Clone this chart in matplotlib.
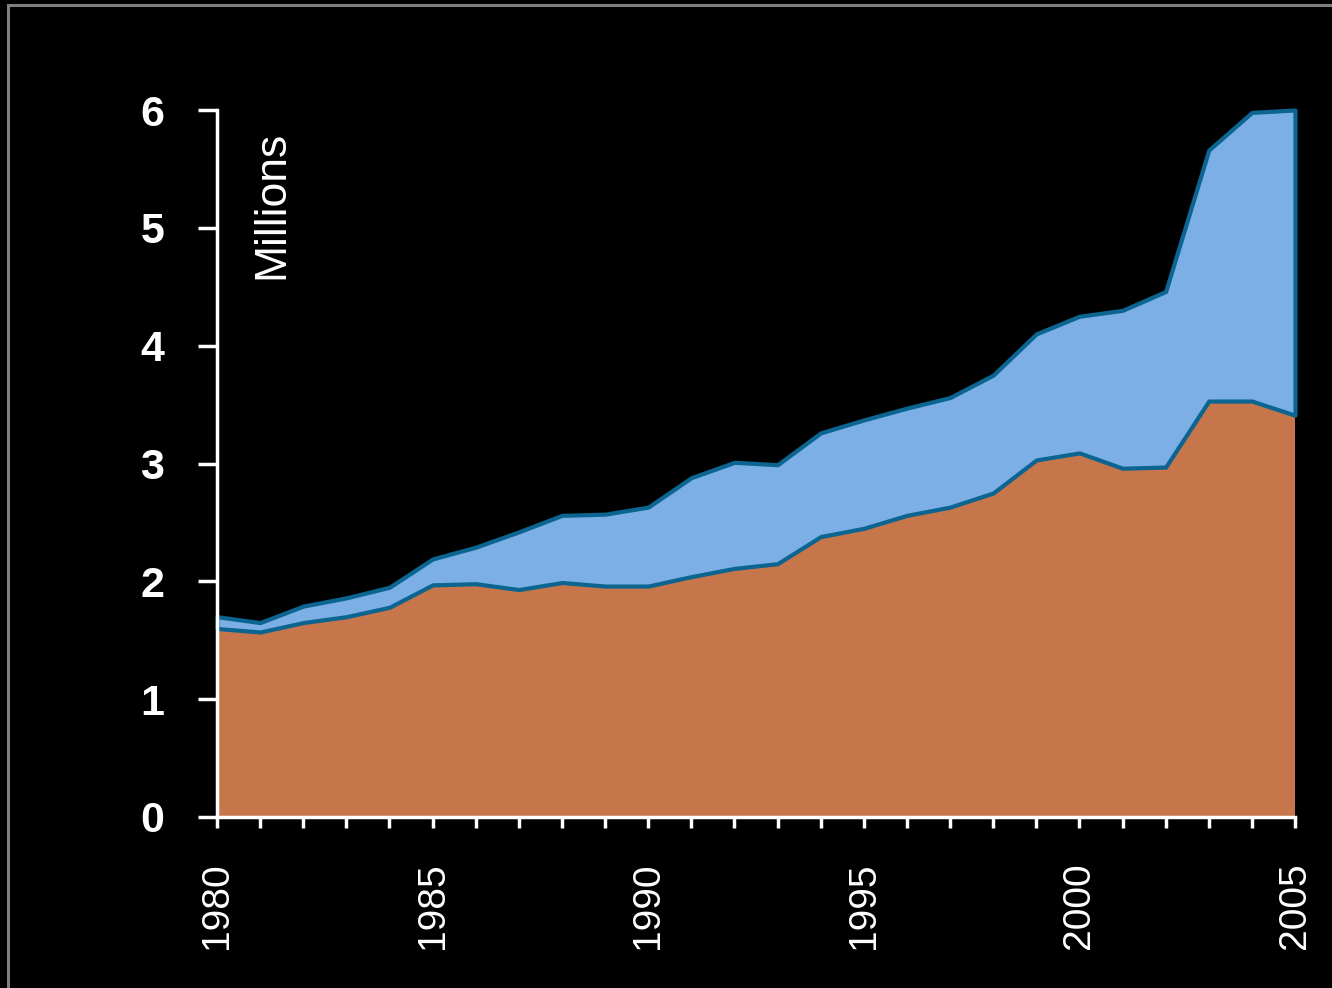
import matplotlib
matplotlib.use("Agg")
import matplotlib.pyplot as plt
from matplotlib.lines import Line2D

years = list(range(1980, 2006))
lower_series = [1.60, 1.57, 1.65, 1.70, 1.78, 1.97, 1.98, 1.93, 1.99, 1.96,
                1.96, 2.04, 2.11, 2.15, 2.38, 2.45, 2.56, 2.63, 2.75, 3.03,
                3.09, 2.96, 2.97, 3.53, 3.53, 3.41]
upper_series = [0.10, 0.08, 0.14, 0.16, 0.17, 0.22, 0.31, 0.49, 0.57, 0.61,
                0.67, 0.84, 0.90, 0.84, 0.88, 0.92, 0.91, 0.93, 1.00, 1.07,
                1.16, 1.34, 1.49, 2.13, 2.45, 2.59]
y_ticks = [0, 1, 2, 3, 4, 5, 6]
x_label_years = [1980, 1985, 1990, 1995, 2000, 2005]

plt.rcParams['font.family'] = ['Liberation Sans', 'DejaVu Sans']

fig = plt.figure(figsize=(13.32, 9.88), dpi=100, facecolor='black')
ax = fig.add_axes([217/1332, 1 - 817/988, (1295-217)/1332, (817-110)/988])
ax.set_facecolor('black')

orange = '#C7754A'
blue = '#7BAFE6'
edge = '#0B6590'

total = [a + b for a, b in zip(lower_series, upper_series)]
ax.fill_between(years, 0, lower_series, facecolor=orange, edgecolor='none', linewidth=0, zorder=1)
ax.fill_between(years, lower_series, total, facecolor=blue, edgecolor=edge,
                linewidth=3.0, zorder=2, clip_on=False)

ax.set_xlim(1980, 2005)
ax.set_ylim(0, 6)

for side in ['top', 'right']:
    ax.spines[side].set_visible(False)
for side in ['left', 'bottom']:
    ax.spines[side].set_color('white')
    ax.spines[side].set_linewidth(2.5)
    ax.spines[side].set_zorder(5)

ax.set_yticks(y_ticks)
ax.set_yticklabels([str(v) for v in y_ticks], fontsize=31, fontweight='bold', color='white')
ax.tick_params(axis='y', colors='white', length=14, width=2.5, pad=24, direction='out')

ax.set_xticks(years)
ax.set_xticklabels([str(y) if y in x_label_years else '' for y in years],
                   rotation=90, fontsize=28, color='white')
ax.tick_params(axis='x', colors='white', length=8, width=2.5, pad=25, direction='out')

ax.text(0.051, 0.97, 'Millions', transform=ax.transAxes, rotation=90,
        ha='center', va='top', fontsize=32, color='white')

# outer frame
fig.add_artist(Line2D([8/1332, 8/1332], [0, 1 - 5/988], transform=fig.transFigure,
                      color='#7f7f7f', linewidth=2.2))
fig.add_artist(Line2D([8/1332, 1], [1 - 5/988, 1 - 5/988], transform=fig.transFigure,
                      color='#7f7f7f', linewidth=2.2))

fig.savefig('out.png', dpi=100, facecolor='black')
